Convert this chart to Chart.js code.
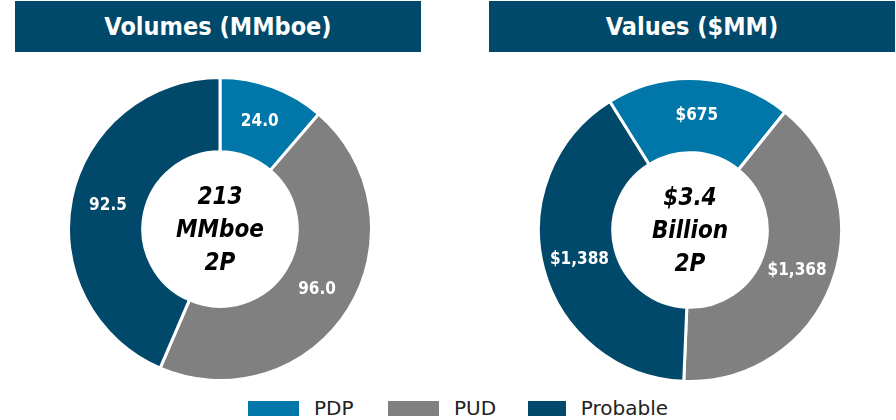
<!DOCTYPE html>
<html lang="en">
<head>
  <meta charset="UTF-8">
  <title>2P Reserves</title>
  <script src="https://cdn.jsdelivr.net/npm/chart.js"></script>
  <style>
    body {
      margin: 0;
      width: 896px;
      height: 420px;
      background: #fff;
      position: relative;
      overflow: hidden;
      font-family: "DejaVu Sans Condensed", "Liberation Sans Narrow", sans-serif;
    }
    .header {
      position: absolute;
      top: 1px;
      height: 51px;
      width: 406px;
      background: #00496a;
      color: #fff;
      font-weight: bold;
      font-size: 25px;
      line-height: 51px;
      text-align: center;
    }
    .donut {
      position: absolute;
      width: 306px;
      height: 306px;
    }
    #legend {
      position: absolute;
      top: 396px;
      left: 248px;
      display: flex;
      font-family: "DejaVu Sans", sans-serif;
      font-size: 20px;
      color: #222;
    }
    .item {
      display: flex;
      align-items: center;
      width: 140px;
    }
    .swatch {
      width: 51px;
      height: 15px;
      margin-right: 15px;
    }
  </style>
</head>
<body>

<div class="header" style="left:15px">Volumes (MMboe)</div>
<div class="header" style="left:489px">Values ($MM)</div>

<div class="donut" style="left:67px; top:76px"><canvas id="volChart"></canvas></div>
<div class="donut" style="left:537px; top:77px"><canvas id="valChart"></canvas></div>

<div id="legend"></div>

<script>
  // Données
  const categories = ['PDP', 'PUD', 'Probable'];
  const colors = ['#0077a8', '#808080', '#00496a'];
  const volumes = [24.0, 96.0, 92.5];
  const values = [675, 1368, 1388];
  const volCenter = ['213', 'MMboe', '2P'];
  const valCenter = ['$3.4', 'Billion', '2P'];

  const FONT = '"DejaVu Sans Condensed", "Liberation Sans Narrow", sans-serif';

  // Étiquettes sur les parts + texte central
  const donutText = {
    id: 'donutText',
    afterDatasetsDraw(chart, args, opts) {
      const ctx = chart.ctx;
      const meta = chart.getDatasetMeta(0);
      ctx.save();
      ctx.textAlign = 'center';
      ctx.textBaseline = 'middle';
      ctx.fillStyle = '#fff';
      ctx.font = 'bold 17px ' + FONT;
      meta.data.forEach((arc, i) => {
        const p = arc.tooltipPosition();
        ctx.fillText(opts.format(chart.data.datasets[0].data[i]), p.x, p.y);
      });
      const c = meta.data[0];
      ctx.fillStyle = '#000';
      ctx.font = 'italic bold 24px ' + FONT;
      opts.center.forEach((line, i) => {
        ctx.fillText(line, c.x, c.y + 2 + (i - 1) * 33);
      });
      ctx.restore();
    }
  };

  function buildDonut(id, data, rotation, center, format) {
    return new Chart(document.getElementById(id), {
      type: 'doughnut',
      data: {
        labels: categories,
        datasets: [{
          data: data,
          backgroundColor: colors,
          borderColor: '#fff',
          borderWidth: 3,
          hoverOffset: 0
        }]
      },
      options: {
        responsive: true,
        maintainAspectRatio: false,
        animation: false,
        cutout: '51%',
        rotation: rotation,
        layout: { padding: 0 },
        plugins: {
          legend: { display: false },
          tooltip: { enabled: false },
          donutText: { center: center, format: format }
        }
      },
      plugins: [donutText]
    });
  }

  buildDonut('volChart', volumes, 0, volCenter, v => v.toFixed(1));
  buildDonut('valChart', values, -32, valCenter, v => '$' + v.toLocaleString('en-US'));

  // Légende
  const legend = document.getElementById('legend');
  categories.forEach((name, i) => {
    const item = document.createElement('div');
    item.className = 'item';
    const sw = document.createElement('div');
    sw.className = 'swatch';
    sw.style.background = colors[i];
    const label = document.createElement('span');
    label.textContent = name;
    item.appendChild(sw);
    item.appendChild(label);
    legend.appendChild(item);
  });
</script>
</body>
</html>
